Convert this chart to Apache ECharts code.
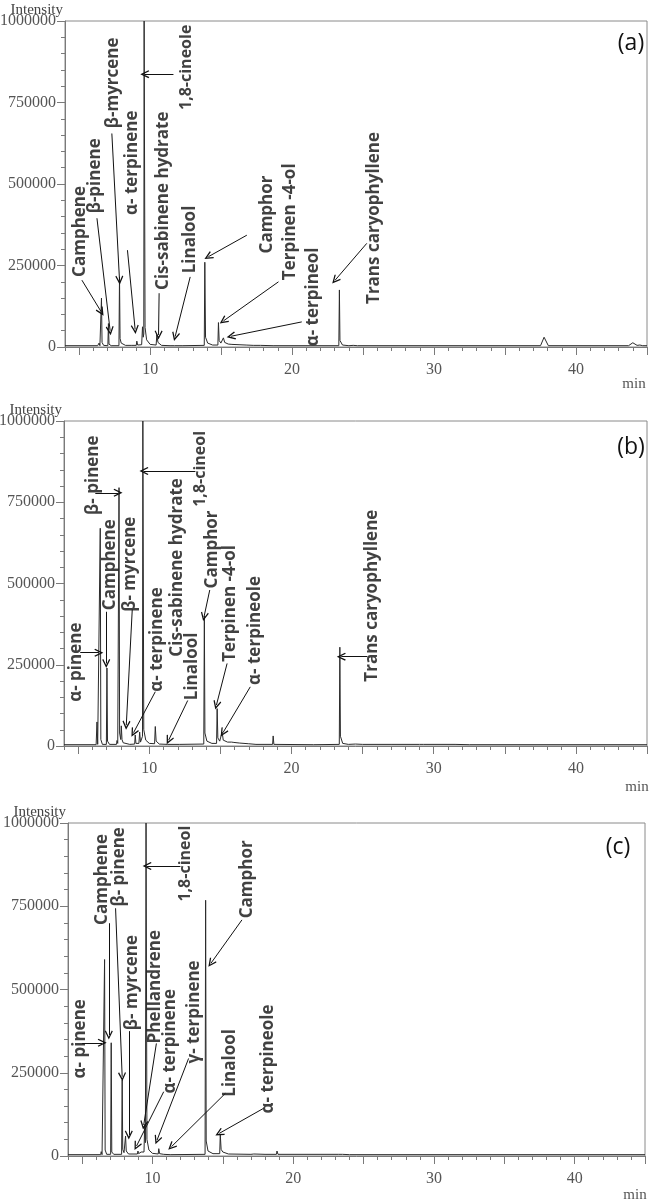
<!DOCTYPE html>
<html>
<head>
<meta charset="utf-8">
<title>GC-MS chromatograms (a) (b) (c)</title>
<script src="https://cdn.jsdelivr.net/npm/echarts@6.0.0/dist/echarts.min.js"></script>
<style>
  html, body { margin: 0; padding: 0; background: #fff; }
  #chart { width: 652px; height: 1203px; }
</style>
</head>
<body>
<div id="chart"></div>
<script>
// retention time (min) / intensity
const timeA = [4.0, 6.30, 6.40, 6.46, 6.53, 6.57, 6.61, 6.72, 7.02, 7.06, 7.10, 7.25, 7.80, 7.84, 7.88, 7.96, 8.02, 8.08, 8.26, 8.30, 8.36, 8.71, 8.75, 8.80, 9.02, 9.06, 9.12, 9.40, 9.46, 9.51, 9.55, 9.575, 9.60, 9.64, 9.75, 10.00, 10.42, 10.47, 10.55, 10.80, 11.40, 11.45, 11.52, 11.72, 11.76, 11.82, 12.25, 12.30, 12.38, 13.81, 13.85, 13.90, 14.05, 14.40, 14.77, 14.81, 14.86, 14.98, 15.12, 15.16, 15.25, 15.50, 15.76, 15.80, 15.90, 16.26, 16.30, 16.40, 16.76, 16.80, 16.90, 17.26, 17.30, 17.40, 17.76, 17.80, 17.90, 18.66, 18.70, 18.78, 23.29, 23.33, 23.37, 23.55, 24.00, 24.30, 24.60, 37.50, 37.75, 38.05, 43.70, 44.00, 44.30, 44.50, 44.70, 45.0]
const intA = [4000, 4000, 12000, 4000, 4000, 150000, 14000, 5000, 4000, 72000, 9000, 4000, 4000, 215000, 26000, 12000, 18000, 8000, 5000, 8000, 5000, 5000, 10000, 5000, 5000, 18000, 6000, 7000, 62000, 30000, 40000, 1000000, 1000000, 60000, 22000, 8000, 6000, 38000, 14000, 5000, 4000, 7000, 4000, 4000, 6000, 4000, 4000, 6000, 4000, 5000, 260000, 30000, 12000, 6000, 6000, 75000, 20000, 12000, 14000, 28000, 14000, 9000, 8000, 11000, 8000, 7000, 9000, 7000, 6000, 8000, 6000, 5000, 7000, 5000, 5000, 6000, 4000, 4000, 6000, 4000, 4000, 175000, 20000, 6000, 4000, 5000, 4000, 4000, 30000, 4000, 4000, 13000, 5000, 6000, 4000, 4000]

const timeB = [4.0, 6.26, 6.32, 6.37, 6.51, 6.55, 6.59, 6.70, 6.98, 7.02, 7.06, 7.20, 7.69, 7.73, 7.78, 7.83, 7.87, 7.91, 7.99, 8.03, 8.08, 8.16, 8.20, 8.26, 8.62, 8.66, 8.72, 8.97, 9.01, 9.06, 9.27, 9.32, 9.38, 9.52, 9.545, 9.575, 9.61, 9.75, 10.00, 10.37, 10.42, 10.48, 10.70, 11.26, 11.30, 11.36, 12.14, 12.18, 12.24, 13.83, 13.87, 13.91, 14.05, 14.40, 14.73, 14.77, 14.82, 14.95, 15.08, 15.12, 15.20, 15.50, 15.78, 15.82, 15.95, 16.36, 16.40, 16.50, 16.96, 17.00, 17.10, 17.50, 18.67, 18.71, 18.76, 21.56, 21.60, 21.66, 23.36, 23.40, 23.44, 23.60, 24.00, 24.50, 25.00, 27.00, 29.00, 29.10, 29.30, 31.50, 32.50, 45.0]
const intB = [4000, 4000, 74000, 5000, 5000, 670000, 20000, 5000, 5000, 240000, 15000, 5000, 5000, 17000, 8000, 8000, 795000, 40000, 20000, 62000, 20000, 10000, 15000, 6000, 5000, 8000, 5000, 6000, 34000, 8000, 8000, 43000, 12000, 30000, 1000000, 1000000, 50000, 18000, 8000, 7000, 60000, 15000, 6000, 5000, 10000, 5000, 5000, 8000, 5000, 6000, 400000, 40000, 15000, 8000, 8000, 115000, 25000, 15000, 16000, 43000, 18000, 12000, 12000, 15000, 11000, 9000, 10000, 8000, 7000, 7000, 6000, 5000, 5000, 31000, 5000, 4000, 5000, 4000, 5000, 304000, 30000, 8000, 5000, 6000, 5000, 5000, 5000, 8000, 5000, 5000, 4000, 4000]

const timeC = [4.0, 6.32, 6.36, 6.42, 6.56, 6.60, 6.64, 6.75, 7.03, 7.07, 7.11, 7.25, 7.81, 7.85, 7.89, 7.98, 8.04, 8.09, 8.14, 8.30, 8.93, 8.97, 9.02, 9.16, 9.20, 9.26, 9.40, 9.45, 9.50, 9.545, 9.575, 9.61, 9.75, 10.00, 10.41, 10.45, 10.51, 10.80, 11.26, 11.30, 11.36, 13.74, 13.78, 13.82, 13.95, 14.30, 14.78, 14.82, 14.88, 15.00, 15.40, 17.00, 17.20, 18.00, 18.81, 18.85, 18.92, 23.20, 23.30, 23.50, 24.00, 45.0]
const intC = [4000, 4000, 13000, 4000, 4000, 590000, 18000, 5000, 5000, 340000, 12000, 5000, 5000, 228000, 20000, 10000, 12000, 60000, 15000, 6000, 6000, 15000, 7000, 7000, 12000, 8000, 12000, 95000, 40000, 1000000, 1000000, 50000, 18000, 8000, 6000, 22000, 7000, 5000, 4000, 6000, 4000, 5000, 768000, 45000, 15000, 7000, 7000, 65000, 20000, 12000, 6000, 5000, 6000, 5000, 5000, 15000, 5000, 5000, 8000, 5000, 4000, 4000]

// compound labels: text, foot of the rotated label [time, intensity], arrow [from time, from int, to time, to int]
const namesA = ['Camphene', 'β-pinene', 'β-myrcene', 'α- terpinene', 'Cis-sabinene hydrate', '1,8-cineole', 'Linalool', 'Camphor', 'Terpinen -4-ol', 'α- terpineol', 'Trans caryophyllene']
const labelAtA = [[5.07, 215000], [6.13, 410000], [7.42, 671000], [8.71, 405000], [10.94, 175000], [12.58, 727000], [12.82, 226000], [18.22, 287000], [19.86, 205000], [21.5, 2000], [25.77, 132000]]
const arrowsA = [[5.19, 205000, 6.55, 108000], [6.25, 395000, 7.18, 50000], [7.30, 655000, 7.84, 205000], [8.40, 297000, 8.94, 54000], [10.63, 165000, 10.59, 37000], [11.64, 837000, 9.62, 837000], [12.82, 215000, 11.76, 32000], [16.81, 343000, 14.1, 277000], [19.04, 200000, 15.16, 80000], [20.68, 77000, 15.7, 33000], [25.26, 318000, 23.03, 205000]]

const namesB = ['α- pinene', 'β- pinene', 'Camphene', 'β- myrcene', 'α- terpinene', 'Cis-sabinene hydrate', 'Linalool', '1,8-cineol', 'Camphor', 'Terpinen -4-ol', 'α- terpineole', 'Trans caryophyllene']
const labelAtB = [[4.86, 136000], [6.08, 711000], [7.25, 418000], [8.66, 413000], [10.54, 167000], [11.95, 275000], [13.0, 141000], [13.59, 736000], [14.41, 485000], [15.7, 259000], [17.46, 188000], [25.68, 198000]]
const arrowsB = [[5.14, 287000, 6.45, 287000], [6.20, 779000, 7.80, 779000], [6.97, 413000, 6.97, 254000], [8.80, 420000, 8.38, 64000], [10.42, 167000, 8.89, 41000], null, [12.70, 140000, 11.36, 18000], [13.24, 846000, 9.62, 846000], [14.25, 480000, 13.85, 398000], [15.47, 254000, 14.72, 126000], [17.1, 182000, 15.18, 41000], [25.33, 275000, 23.5, 275000]]

const namesC = ['α- pinene', 'Camphene', 'β- pinene', 'β- myrcene', 'Phellandrene', 'α- terpinene', 'γ- terpinene', '1,8-cineol', 'Camphor', 'Linalool', 'α- terpineole']
const labelAtC = [[4.89, 233000], [6.43, 694000], [7.61, 749000], [8.56, 378000], [10.21, 338000], [11.28, 188000], [12.93, 278000], [12.34, 764000], [16.76, 714000], [15.53, 178000], [18.25, 128000]]
const arrowsC = [[5.01, 340000, 6.43, 340000], [6.90, 699000, 6.90, 363000], [7.38, 744000, 7.85, 238000], [8.32, 375000, 8.32, 63000], [10.28, 338000, 9.38, 93000], [10.8, 193000, 8.87, 30000], [12.57, 293000, 10.33, 48000], [11.99, 871000, 9.62, 871000], [16.36, 709000, 14.16, 579000], [15.18, 188000, 11.35, 28000], [17.89, 143000, 14.75, 68000]]

const panelTags = ['(a)', '(b)', '(c)']
const xMajorTicks = [5, 10, 15, 20, 25, 30, 35, 40, 45]
const xMinorTicks = [4, 5, 6, 7, 8, 9, 10, 11, 12, 13, 14, 15, 16, 17, 18, 19, 20, 21, 22, 23, 24, 25, 26, 27, 28, 29, 30, 31, 32, 33, 34, 35, 36, 37, 38, 39, 40, 41, 42, 43, 44, 45]
const xTickLabels = [10, 20, 30, 40]

const panels = [
  { time: timeA, intensity: intA, names: namesA, at: labelAtA, arrows: arrowsA },
  { time: timeB, intensity: intB, names: namesB, at: labelAtB, arrows: arrowsB },
  { time: timeC, intensity: intC, names: namesC, at: labelAtC, arrows: arrowsC }
]

// plot boxes of the three stacked chromatograms
const boxes = [
  { left: 65, top: 21, width: 582, height: 326 },
  { left: 64, top: 421, width: 583, height: 325 },
  { left: 68, top: 823, width: 577, height: 333 }
]
const tagPos = [[631, 43], [631, 447], [618, 847]]
const minPos = [[634, 384], [637, 787], [635, 1195]]

const axisGray = '#7a7a7a'
const serif = 'Liberation Serif'
const labelFont = 'Open Sans'
// open "V" arrow head, tip pointing up like the built-in arrow
const arrowHead = 'path://M5,0 L10,9 L8.7,9.8 L5,3.2 L1.3,9.8 L0,9 Z'

const chart = echarts.init(document.getElementById('chart'), null, { renderer: 'canvas' })

const grid = []
const xAxis = []
const yAxis = []
const series = []
const graphic = []

panels.forEach((p, i) => {
  grid.push(Object.assign({ show: true, borderColor: '#8a8a8a', borderWidth: 1, outerBoundsMode: 'none' }, boxes[i]))

  xAxis.push({
    type: 'value', gridIndex: i, min: 4, max: 45, position: 'bottom',
    axisLine: { show: true, onZero: false, lineStyle: { color: axisGray, width: 1 } },
    axisTick: { show: true, customValues: xMajorTicks, length: 8, lineStyle: { color: axisGray } },
    axisLabel: { customValues: xTickLabels, margin: 15, fontFamily: serif, fontSize: 16, color: '#555' },
    splitLine: { show: false }
  })
  xAxis.push({
    type: 'value', gridIndex: i, min: 4, max: 45, position: 'bottom',
    axisLine: { show: false },
    axisTick: { show: true, customValues: xMinorTicks, length: 4, lineStyle: { color: axisGray } },
    axisLabel: { show: false },
    splitLine: { show: false }
  })

  yAxis.push({
    type: 'value', gridIndex: i, min: 0, max: 1000000, interval: 250000,
    name: 'Intensity', nameLocation: 'end', nameGap: 3, nameMoveOverlap: false,
    nameTextStyle: { fontFamily: serif, fontSize: 15, color: '#444', align: 'right', verticalAlign: 'bottom', padding: [0, 2, 0, 0] },
    axisLine: { show: true, lineStyle: { color: axisGray, width: 1 } },
    axisTick: { show: true, length: 8, lineStyle: { color: axisGray } },
    minorTick: { show: true, splitNumber: 5, length: 4, lineStyle: { color: axisGray } },
    axisLabel: { formatter: v => String(v), margin: 9, fontFamily: serif, fontSize: 16, color: '#555' },
    splitLine: { show: false }
  })

  // the chromatogram trace
  series.push({
    type: 'line', xAxisIndex: i * 2, yAxisIndex: i,
    data: p.time.map((t, k) => [t, p.intensity[k]]),
    showSymbol: false, symbol: 'none',
    lineStyle: { color: '#2b2b2b', width: 1 },
    silent: true
  })

  // compound names (rotated) plus their arrows
  series.push({
    type: 'scatter', xAxisIndex: i * 2, yAxisIndex: i,
    symbolSize: 0, silent: true,
    data: p.names.map((n, k) => ({
      name: n, value: p.at[k],
      label: n.indexOf('cineol') >= 0 ? { fontSize: 16 } : {}
    })),
    label: {
      show: true, formatter: '{b}', position: 'inside', rotate: 90,
      align: 'left', verticalAlign: 'middle',
      fontFamily: labelFont, fontWeight: 700, fontSize: 17, color: '#111'
    },
    markLine: {
      silent: true, animation: false,
      symbol: ['none', arrowHead], symbolSize: [8, 9],
      label: { show: false },
      lineStyle: { color: '#111', width: 1, type: 'solid' },
      emphasis: { disabled: true },
      data: p.arrows.filter(a => a).map(a => [{ coord: [a[0], a[1]] }, { coord: [a[2], a[3]] }])
    }
  })

  graphic.push({
    type: 'text', x: tagPos[i][0], y: tagPos[i][1],
    style: { text: panelTags[i], font: '23px "Open Sans"', fill: '#111', align: 'center', verticalAlign: 'middle' }
  })
  graphic.push({
    type: 'text', x: minPos[i][0], y: minPos[i][1],
    style: { text: 'min', font: '15px "Liberation Serif"', fill: '#555', align: 'center', verticalAlign: 'middle' }
  })
})

chart.setOption({
  animation: false,
  backgroundColor: '#fff',
  grid: grid,
  xAxis: xAxis,
  yAxis: yAxis,
  series: series,
  graphic: graphic
})
</script>
</body>
</html>
